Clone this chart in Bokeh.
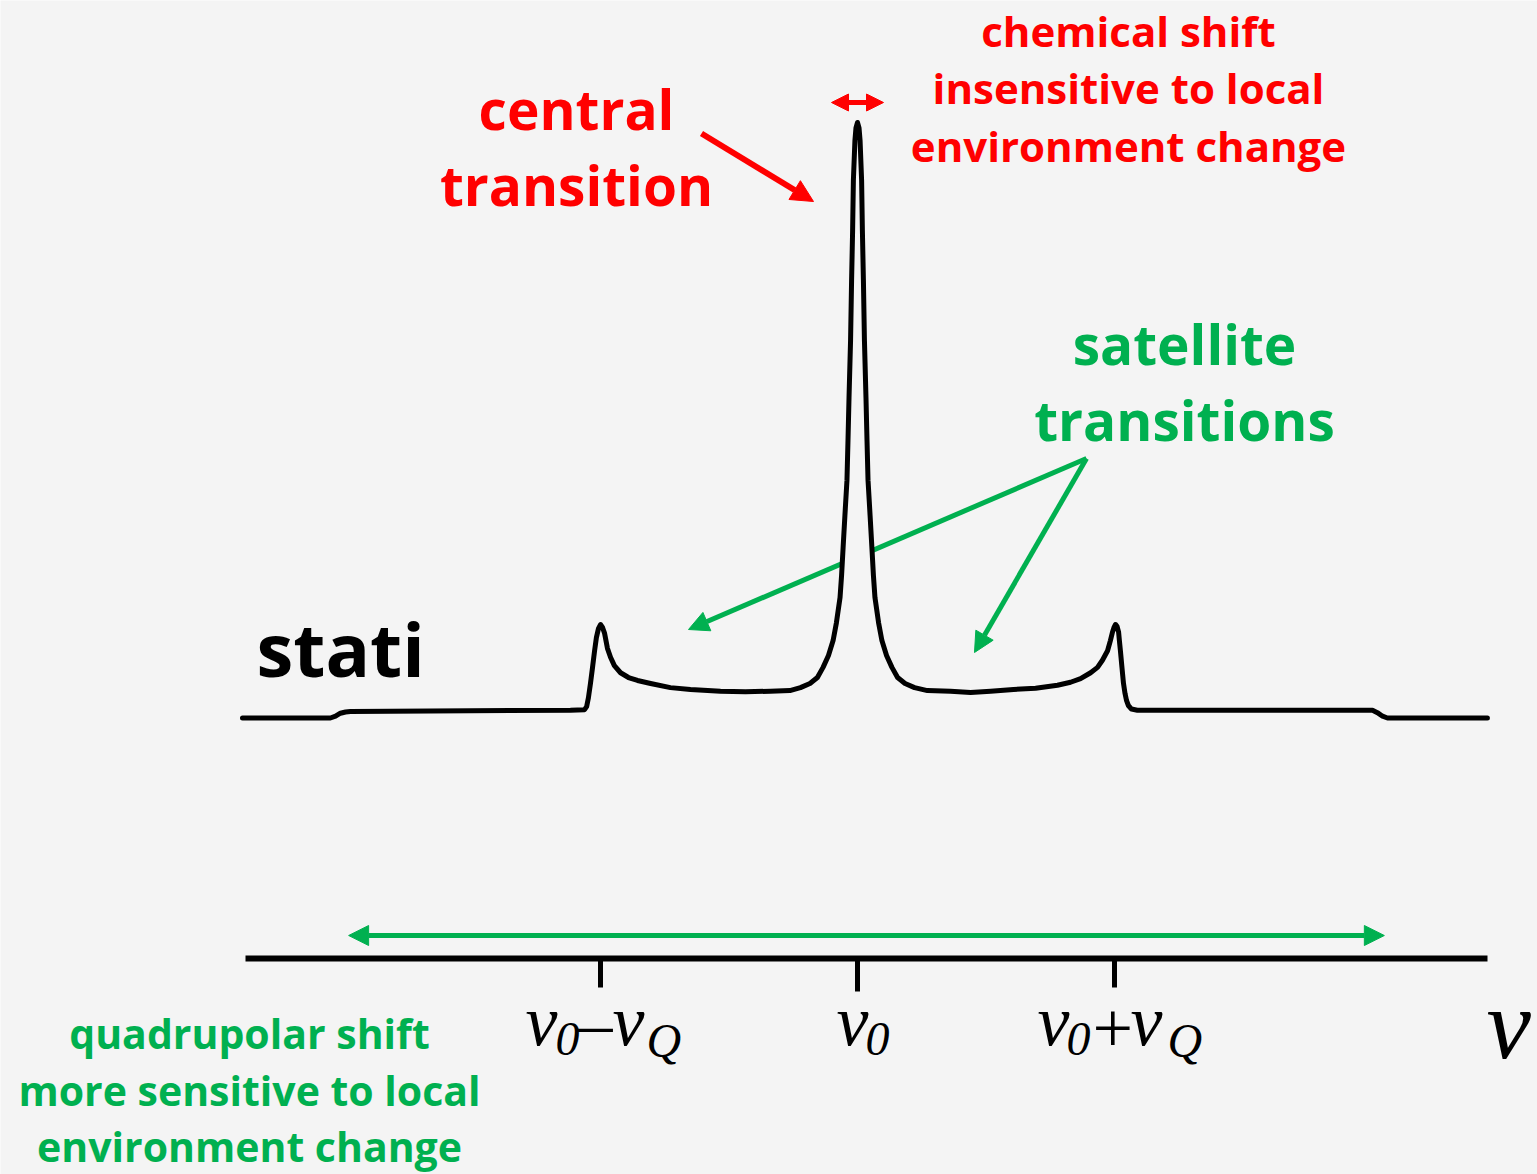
from bokeh.plotting import figure
from bokeh.models import Range1d, Arrow, NormalHead
from bokeh.core.properties import value
from bokeh.embed import file_html
from bokeh.resources import INLINE

# ---------------- data (frequency offset from v0 in units of vQ, relative intensity) ----------------
freq = [-2.393, -2.051, -2.031, -2.012, -1.992, -1.973, -1.117, -1.062, -1.054, -1.047,
        -1.039, -1.031, -1.023, -1.016, -1.008, -1.000, -0.992, -0.984, -0.973, -0.961,
        -0.946, -0.922, -0.891, -0.856, -0.805, -0.728, -0.650, -0.533, -0.436, -0.339,
        -0.263, -0.222, -0.185, -0.156, -0.134, -0.113, -0.095, -0.082, -0.068, -0.062,
        -0.056, -0.049, -0.041, -0.037, -0.033, -0.027, -0.023, -0.019, -0.016, -0.010,
        -0.006, 0.000,
        0.006, 0.010, 0.016, 0.019, 0.023, 0.027, 0.033, 0.037, 0.041, 0.049,
        0.056, 0.062, 0.068, 0.082, 0.095, 0.113, 0.134, 0.156, 0.185, 0.222, 0.272,
        0.362, 0.440, 0.518, 0.607, 0.693, 0.778, 0.829, 0.868, 0.907, 0.934,
        0.953, 0.973, 0.984, 0.992, 0.998, 1.004, 1.010, 1.016, 1.019, 1.023,
        1.029, 1.035, 1.041, 1.047, 1.054, 1.066, 1.089, 2.004, 2.023, 2.043,
        2.062, 2.451]
intensity = [0.000, 0.000, 0.003, 0.008, 0.010, 0.011, 0.013, 0.014, 0.019, 0.034,
             0.058, 0.085, 0.113, 0.135, 0.150, 0.157, 0.152, 0.142, 0.117, 0.102,
             0.088, 0.076, 0.068, 0.063, 0.058, 0.051, 0.048, 0.045, 0.044, 0.045,
             0.046, 0.051, 0.058, 0.068, 0.085, 0.105, 0.130, 0.160, 0.202, 0.239,
             0.286, 0.340, 0.399, 0.466, 0.538, 0.634, 0.735, 0.819, 0.903, 0.970,
             0.991, 1.000,
             0.991, 0.970, 0.903, 0.819, 0.735, 0.634, 0.538, 0.466, 0.399, 0.340,
             0.286, 0.239, 0.202, 0.160, 0.130, 0.105, 0.085, 0.068, 0.058, 0.051, 0.046,
             0.045, 0.043, 0.045, 0.048, 0.050, 0.055, 0.060, 0.066, 0.076, 0.085,
             0.097, 0.113, 0.130, 0.144, 0.152, 0.157, 0.154, 0.144, 0.130, 0.113,
             0.085, 0.058, 0.041, 0.029, 0.021, 0.015, 0.013, 0.013, 0.009, 0.003,
             0.000, 0.000]
assert len(freq) == len(intensity)

tick_positions = [-1, 0, 1]          # v0-vQ, v0, v0+vQ
quad_range = [-1.98, 2.05]           # extent of the quadrupolar (satellite) pattern

RED = "#ff0000"
GREEN = "#00b050"
BG = "#f4f4f4"
SANS = "Open Sans"
SERIF = "Liberation Serif"

W, H = 1537, 1174
X0, SX, Y0, SY = 857.0, 257.0, 717.5, 595.5


def dx(px):
    return (px - X0) / SX


def dy(py):
    return (Y0 - py) / SY


p = figure(width=W, height=H, output_backend="svg", toolbar_location=None,
           x_range=Range1d(dx(0), dx(W)), y_range=Range1d(dy(H), dy(0)),
           min_border=0, x_axis_type=None, y_axis_type=None)
p.grid.visible = False
p.outline_line_color = None
p.background_fill_color = BG
p.border_fill_color = BG


def arrow(x0, y0, x1, y1, color, lw, size, both=False, level="annotation"):
    kw = dict(x_start=x0, y_start=y0, x_end=x1, y_end=y1, line_color=color, line_width=lw,
              end=NormalHead(size=size, fill_color=color, line_color=color, line_width=1),
              level=level)
    kw["start"] = NormalHead(size=size, fill_color=color, line_color=color, line_width=1) if both else None
    p.add_layout(Arrow(**kw))


# green arrows to the satellite transitions (behind the spectrum)
src_x, src_y = dx(1086), dy(458)
arrow(src_x, src_y, dx(688), dy(629), GREEN, 5, 20, level="underlay")
arrow(src_x, src_y, dx(974), dy(652), GREEN, 5, 20, level="underlay")

# spectrum: background fill under the curve hides the arrow behind the central peak
p.varea(x=freq, y1=0, y2=intensity, fill_color=BG)
p.line(freq, intensity, line_color="black", line_width=5, line_join="round", line_cap="round")

# red arrows
arrow(dx(701), dy(133), dx(813), dy(201), RED, 6, 22)
arrow(dx(831), dy(102), dx(883), dy(102), RED, 5, 17, both=True)

# green quadrupolar range arrow
arrow(quad_range[0], dy(935), quad_range[1], dy(935), GREEN, 5, 20, both=True)

# ---------------- frequency axis ----------------
axis_y = dy(958)
p.segment(x0=[dx(245)], y0=[axis_y], x1=[dx(1487)], y1=[axis_y], line_color="black", line_width=6)
tick_len = [dy(987) - axis_y, dy(991) - axis_y, dy(987) - axis_y]
p.segment(x0=tick_positions, y0=[axis_y] * 3, x1=tick_positions,
          y1=[axis_y + t for t in tick_len], line_color="black", line_width=5)

# tick labels built from pieces: (text, left px, baseline px, size px, italic)
pieces = [
    ("v", 525, 1020, 72, True), ("0", 555, 1038, 48, True), ("\u2013", 578, 1022, 68, False),
    ("v", 612, 1020, 72, True), ("Q", 646, 1040, 48, True),
    ("v", 836, 1020, 72, True), ("0", 865, 1038, 48, True),
    ("v", 1037, 1020, 72, True), ("0", 1066, 1038, 48, True), ("+", 1092, 1028, 72, False),
    ("v", 1130, 1020, 72, True), ("Q", 1167, 1040, 48, True),
    ("v", 1486, 1024, 100, True),
]
for t, lx, by, sz, it in pieces:
    p.text(x=[dx(lx)], y=[dy(by)], text=[t], text_font=value(SERIF),
           text_font_style="italic" if it else "normal", text_font_size=f"{sz}px",
           text_color="black", text_align="left", text_baseline="alphabetic")


# ---------------- labels ----------------
def label(lines, cx, cys, size, color, align="center"):
    p.text(x=[dx(cx)] * len(lines), y=[dy(c) for c in cys], text=lines,
           text_font=value(SANS), text_font_style="bold", text_font_size=f"{size}px",
           text_color=color, text_align=align, text_baseline="middle")


label(["chemical shift", "insensitive to local", "environment change"], 1128, [30, 87, 145], 42, RED)
label(["central", "transition"], 576, [108, 184], 55, RED)
label(["satellite", "transitions"], 1184, [343, 419], 55, GREEN)
label(["stati"], 256, [648], 74, "black", align="left")
label(["quadrupolar shift", "more sensitive to local", "environment change"], 249, [1032, 1089, 1145], 41, GREEN)

open("out.html", "w").write(file_html(p, INLINE))
